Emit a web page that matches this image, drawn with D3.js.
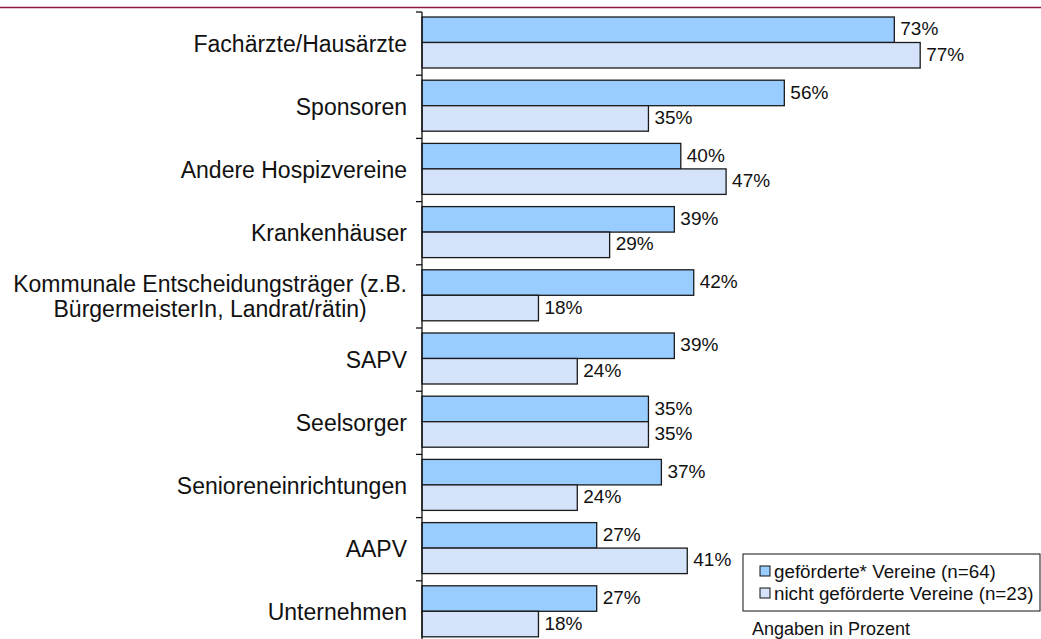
<!DOCTYPE html>
<html>
<head>
<meta charset="utf-8">
<script src="https://cdn.jsdelivr.net/npm/d3@7"></script>
<style>
  body { margin: 0; background: #fff; }
  svg { display: block; font-family: "Liberation Sans", Arial, Helvetica, sans-serif; }
</style>
</head>
<body>
<div id="chart"></div>
<script>
// categories, multi-line labels split with '\n'
var categories = [
  'Fachärzte/Hausärzte',
  'Sponsoren',
  'Andere Hospizvereine',
  'Krankenhäuser',
  'Kommunale Entscheidungsträger (z.B.\nBürgermeisterIn, Landrat/rätin)',
  'SAPV',
  'Seelsorger',
  'Senioreneinrichtungen',
  'AAPV',
  'Unternehmen'
];
var seriesNames = ['geförderte* Vereine (n=64)', 'nicht geförderte Vereine (n=23)'];
var gefoerdert = [73, 56, 40, 39, 42, 39, 35, 37, 27, 27];
var nichtGefoerdert = [77, 35, 47, 29, 18, 24, 35, 24, 41, 18];
var note = 'Angaben in Prozent';

var width = 1041, height = 639;
var colors = ['#99CCFF', '#D4E2FA'];

var svg = d3.select('#chart')
  .append('svg')
  .attr('width', width)
  .attr('height', height);

// top rule
svg.append('line')
  .attr('x1', 0).attr('x2', width)
  .attr('y1', 7.5).attr('y2', 7.5)
  .attr('stroke', '#8B1A3C')
  .attr('stroke-width', 1.5);

var x0 = 422;
var x = d3.scaleLinear().domain([0, 100]).range([x0, x0 + 647]);
var y = d3.scaleBand().domain(categories).range([12, 12 + 63.2 * categories.length]).paddingInner(0);
var yInner = d3.scaleBand().domain([0, 1]).range([5, 56]);

var rows = categories.map(function(c, i){
  return { cat: c, vals: [gefoerdert[i], nichtGefoerdert[i]] };
});

var groups = svg.selectAll('.grp')
  .data(rows)
  .enter()
  .append('g')
  .attr('class', 'grp')
  .attr('transform', function(d){ return 'translate(0,' + y(d.cat) + ')'; });

groups.selectAll('rect')
  .data(function(d){ return d.vals; })
  .enter()
  .append('rect')
  .attr('x', x(0))
  .attr('y', function(d, i){ return yInner(i); })
  .attr('width', function(d){ return x(d) - x(0); })
  .attr('height', yInner.bandwidth())
  .attr('fill', function(d, i){ return colors[i]; })
  .attr('stroke', '#1a1a1a')
  .attr('stroke-width', 1.3);

groups.selectAll('.val')
  .data(function(d){ return d.vals; })
  .enter()
  .append('text')
  .attr('class', 'val')
  .attr('x', function(d){ return x(d) + 6; })
  .attr('y', function(d, i){ return yInner(i) + yInner.bandwidth() / 2 - 1; })
  .attr('dy', '0.35em')
  .attr('font-size', 19)
  .attr('fill', '#111')
  .text(function(d){ return d + '%'; });

// category labels (multi-line ones centred as a block, block right-aligned)
groups.each(function(d){
  var lines = d.cat.split('\n');
  var g = d3.select(this);
  var cy = y.bandwidth() / 2;
  var lh = 25;
  var t = g.append('text')
    .attr('font-size', 23)
    .attr('fill', '#111');
  lines.forEach(function(line, k){
    t.append('tspan')
      .attr('x', 0)
      .attr('y', cy + (k - (lines.length - 1) / 2) * lh)
      .attr('dy', '0.35em')
      .text(line);
  });
  if (lines.length === 1) {
    t.attr('text-anchor', 'end').selectAll('tspan').attr('x', 407);
  } else {
    var w = t.node().getBBox().width;
    t.attr('text-anchor', 'middle').selectAll('tspan').attr('x', 407 - w / 2);
  }
});

// axis line with ticks between categories
svg.append('line')
  .attr('x1', x0).attr('x2', x0)
  .attr('y1', 12).attr('y2', height)
  .attr('stroke', '#111')
  .attr('stroke-width', 1.3);
svg.selectAll('.tick-mark')
  .data(categories)
  .enter()
  .append('line')
  .attr('class', 'tick-mark')
  .attr('x1', x0 - 6).attr('x2', x0)
  .attr('y1', function(d){ return y(d); })
  .attr('y2', function(d){ return y(d); })
  .attr('stroke', '#111')
  .attr('stroke-width', 1.3);

// legend
var legend = svg.append('g').attr('transform', 'translate(743,554)');
legend.append('rect')
  .attr('x', 0).attr('y', 0)
  .attr('width', 297).attr('height', 57)
  .attr('fill', '#fff')
  .attr('stroke', '#111')
  .attr('stroke-width', 1);
var li = legend.selectAll('.li')
  .data(seriesNames)
  .enter()
  .append('g')
  .attr('class', 'li')
  .attr('transform', function(d, i){ return 'translate(0,' + (17 + i * 22) + ')'; });
li.append('rect')
  .attr('x', 17).attr('y', -5)
  .attr('width', 10).attr('height', 10)
  .attr('fill', function(d, i){ return colors[i]; })
  .attr('stroke', '#111')
  .attr('stroke-width', 1);
li.append('text')
  .attr('x', 31)
  .attr('dy', '0.35em')
  .attr('font-size', 18.8)
  .attr('fill', '#111')
  .text(function(d){ return d; });

svg.append('text')
  .attr('x', 752).attr('y', 629)
  .attr('dy', '0.35em')
  .attr('font-size', 18)
  .attr('fill', '#111')
  .text(note);
</script>
</body>
</html>
